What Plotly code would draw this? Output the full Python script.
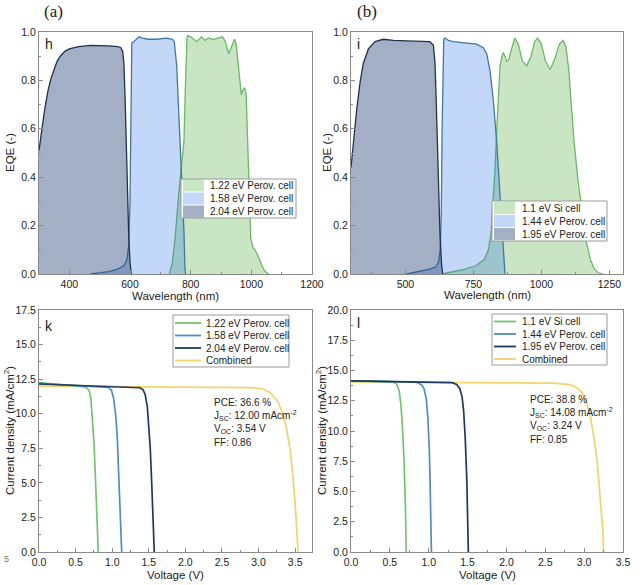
import plotly.graph_objects as go

W, H = 640, 585

# ---------------- data ----------------
# Panel (a) EQE
a_wl_204 = [300, 305, 312, 320, 330, 340, 350, 360, 370, 385, 400, 430, 470, 500, 530, 560, 570, 576, 580, 584, 588, 592, 596, 600, 604]
a_eqe_204 = [0.51, 0.55, 0.62, 0.69, 0.76, 0.81, 0.85, 0.88, 0.90, 0.92, 0.93, 0.94, 0.945, 0.945, 0.943, 0.94, 0.935, 0.92, 0.87, 0.72, 0.52, 0.32, 0.15, 0.05, 0.0]
a_wl_158 = [470, 500, 530, 560, 580, 590, 596, 600, 603, 606, 612, 620, 630, 640, 660, 690, 720, 740, 746, 754, 762, 770, 774, 778, 781, 783]
a_eqe_158 = [0.0, 0.005, 0.01, 0.02, 0.035, 0.06, 0.12, 0.3, 0.7, 0.955, 0.96, 0.97, 0.98, 0.975, 0.97, 0.97, 0.975, 0.97, 0.96, 0.86, 0.65, 0.44, 0.3, 0.17, 0.03, 0.0]
a_wl_122 = [730, 740, 748, 754, 762, 770, 778, 782, 785, 788, 790, 800, 810, 820, 828, 836, 847, 858, 875, 890, 905, 915, 925, 935, 945, 950, 957, 962, 967, 972, 978, 983, 988, 993, 998, 1005, 1012, 1020, 1029, 1040, 1050, 1058]
a_eqe_122 = [0.0, 0.05, 0.14, 0.24, 0.35, 0.45, 0.55, 0.75, 0.92, 0.98, 0.985, 0.98, 0.97, 0.96, 0.97, 0.98, 0.965, 0.975, 0.97, 0.975, 0.98, 0.96, 0.91, 0.94, 0.97, 0.95, 0.85, 0.78, 0.74, 0.76, 0.77, 0.74, 0.55, 0.3, 0.15, 0.11, 0.10, 0.08, 0.05, 0.02, 0.005, 0.0]

# Panel (b) EQE
b_wl_195 = [300, 309, 321, 333, 345, 364, 388, 419, 456, 505, 554, 590, 603, 609, 615, 621, 627, 633, 637]
b_eqe_195 = [0.44, 0.55, 0.68, 0.79, 0.87, 0.93, 0.96, 0.97, 0.965, 0.963, 0.96, 0.96, 0.945, 0.87, 0.65, 0.375, 0.17, 0.04, 0.0]
b_wl_144 = [505, 550, 590, 612, 622, 628, 632, 635, 638, 641, 646, 658, 676, 713, 762, 786, 799, 811, 823, 836, 848, 858, 863, 866]
b_eqe_144 = [0.0, 0.01, 0.02, 0.03, 0.05, 0.1, 0.25, 0.6, 0.9, 0.97, 0.975, 0.965, 0.96, 0.955, 0.95, 0.935, 0.91, 0.84, 0.72, 0.54, 0.31, 0.13, 0.03, 0.0]
b_wl_si = [635, 680, 720, 760, 790, 805, 815, 822, 829, 836, 842, 848, 855, 860, 866, 872, 880, 890, 903, 915, 930, 946, 962, 975, 986, 1000, 1015, 1032, 1050, 1066, 1080, 1090, 1100, 1110, 1120, 1135, 1150, 1166, 1180, 1195, 1210, 1225]
b_eqe_si = [0.0, 0.01, 0.02, 0.035, 0.06, 0.1, 0.17, 0.3, 0.42, 0.6, 0.75, 0.86, 0.9, 0.915, 0.9, 0.88, 0.885, 0.93, 0.975, 0.95, 0.88, 0.86, 0.9, 0.96, 0.975, 0.95, 0.88, 0.845, 0.89, 0.95, 0.965, 0.94, 0.85, 0.7, 0.55, 0.38, 0.25, 0.13, 0.06, 0.02, 0.005, 0.0]

# Panel (k) J-V
k_v_122 = [0, 0.3, 0.6, 0.66, 0.69, 0.71, 0.73, 0.75, 0.77, 0.79, 0.81]
k_j_122 = [12.25, 12.1, 11.95, 11.85, 11.6, 11.0, 9.8, 8.0, 5.5, 2.5, 0.0]
k_v_158 = [0, 0.4, 0.8, 0.95, 0.99, 1.02, 1.05, 1.07, 1.09, 1.11, 1.13]
k_j_158 = [12.2, 12.1, 11.95, 11.9, 11.7, 11.1, 9.8, 8.2, 5.8, 3.0, 0.0]
k_v_204 = [0, 0.5, 1.0, 1.38, 1.42, 1.45, 1.48, 1.50, 1.52, 1.54, 1.56, 1.575]
k_j_204 = [12.15, 12.05, 11.95, 11.88, 11.75, 11.4, 10.5, 9.3, 7.5, 5.0, 2.0, 0.0]
k_v_comb = [0, 1.0, 2.0, 2.9, 3.05, 3.15, 3.25, 3.32, 3.38, 3.43, 3.47, 3.50, 3.54]
k_j_comb = [12.0, 11.97, 11.93, 11.88, 11.8, 11.55, 11.0, 10.2, 9.0, 7.4, 5.5, 3.5, 0.0]

# Panel (l) J-V
l_v_si = [0, 0.3, 0.5, 0.56, 0.59, 0.62, 0.64, 0.66, 0.68, 0.70, 0.71]
l_j_si = [14.15, 14.12, 14.08, 14.0, 13.85, 13.3, 12.3, 10.6, 7.9, 3.8, 0.0]
l_v_144 = [0, 0.4, 0.8, 0.87, 0.91, 0.94, 0.97, 0.99, 1.01, 1.02, 1.035]
l_j_144 = [14.15, 14.1, 14.05, 13.97, 13.8, 13.5, 12.6, 11.0, 8.0, 5.0, 0.0]
l_v_195 = [0, 0.5, 1.0, 1.3, 1.36, 1.40, 1.43, 1.45, 1.47, 1.49, 1.51]
l_j_195 = [14.15, 14.1, 14.05, 14.0, 13.85, 13.5, 12.8, 11.6, 9.4, 6.0, 0.0]
l_v_comb = [0, 1.0, 2.0, 2.6, 2.8, 2.9, 2.97, 3.03, 3.08, 3.13, 3.17, 3.21, 3.24, 3.25]
l_j_comb = [14.05, 14.03, 14.0, 13.95, 13.85, 13.6, 13.2, 12.4, 11.2, 9.3, 7.3, 4.5, 1.8, 0.0]

a_names = ["1.22 eV Perov. cell", "1.58 eV Perov. cell", "2.04 eV Perov. cell"]
b_names = ["1.1 eV Si cell", "1.44 eV Perov. cell", "1.95 eV Perov. cell"]
k_names = ["1.22 eV Perov. cell", "1.58 eV Perov. cell", "2.04 eV Perov. cell", "Combined"]
l_names = ["1.1 eV Si cell", "1.44 eV Perov. cell", "1.95 eV Perov. cell", "Combined"]
k_stats = ["PCE: 36.6 %", "J<sub>SC</sub>: 12.00 mAcm<sup>-2</sup>", "V<sub>OC</sub>: 3.54 V", "FF: 0.86"]
l_stats = ["PCE: 38.8 %", "J<sub>SC</sub>: 14.08 mAcm<sup>-2</sup>", "V<sub>OC</sub>: 3.24 V", "FF: 0.85"]

# ---------------- styles ----------------
FONT = "Liberation Sans, Arial, sans-serif"
G_FILL, G_LINE = "rgba(60,160,40,0.28)", "#6cb865"
B_FILL, B_LINE = "rgba(40,110,230,0.28)", "#3f78a8"
D_FILL, D_LINE = "rgba(40,70,120,0.43)", "#1f3350"
JV_G, JV_B, JV_D, JV_Y = "#72c66e", "#4f8dc6", "#1f3a60", "#f2d36c"
AX_COL = "#8a8a8a"
TXT = "#222222"


def px(x):
    """window pixel -> paper fraction"""
    return x / W


def py(y):
    return 1 - y / H


fig = go.Figure()


def eqe(x, y, fill, line, xa, ya):
    fig.add_trace(go.Scatter(x=x, y=y, mode="lines", fill="tozeroy", fillcolor=fill,
                             line=dict(color=line, width=1.3), xaxis=xa, yaxis=ya,
                             showlegend=False, hoverinfo="skip"))


def jv(x, y, col, xa, ya):
    fig.add_trace(go.Scatter(x=x, y=y, mode="lines", line=dict(color=col, width=1.7),
                             xaxis=xa, yaxis=ya, showlegend=False, hoverinfo="skip"))


eqe(a_wl_122, a_eqe_122, G_FILL, G_LINE, "x", "y")
eqe(a_wl_158, a_eqe_158, B_FILL, B_LINE, "x", "y")
eqe(a_wl_204, a_eqe_204, D_FILL, D_LINE, "x", "y")
eqe(b_wl_si, b_eqe_si, G_FILL, G_LINE, "x2", "y2")
eqe(b_wl_144, b_eqe_144, B_FILL, B_LINE, "x2", "y2")
eqe(b_wl_195, b_eqe_195, D_FILL, D_LINE, "x2", "y2")

jv(k_v_comb, k_j_comb, JV_Y, "x3", "y3")
jv(k_v_122, k_j_122, JV_G, "x3", "y3")
jv(k_v_158, k_j_158, JV_B, "x3", "y3")
jv(k_v_204, k_j_204, JV_D, "x3", "y3")
jv(l_v_comb, l_j_comb, JV_Y, "x4", "y4")
jv(l_v_si, l_j_si, JV_G, "x4", "y4")
jv(l_v_144, l_j_144, JV_B, "x4", "y4")
jv(l_v_195, l_j_195, JV_D, "x4", "y4")

tickfont = dict(family=FONT, size=10.5, color=TXT)


def axis(domain, rng, dtick, fmt, anchor, tick0=0):
    return dict(domain=domain, range=rng, dtick=dtick, tick0=tick0, tickformat=fmt,
                anchor=anchor, showgrid=False, zeroline=False, showline=True,
                automargin=False,
                linecolor=AX_COL, linewidth=1, mirror=True, ticks="inside",
                ticklen=4, tickcolor=AX_COL, tickfont=tickfont,
                minor=dict(ticks="inside", ticklen=2, tickcolor=AX_COL, dtick=dtick / 2, tick0=tick0))


top_dom = [py(274), py(32)]
bot_dom = [py(552), py(310)]
left_dom = [px(39), px(312)]
right_dom = [px(351), px(623)]

fig.update_layout(
    template="none",
    width=W, height=H, margin=dict(l=0, r=0, t=0, b=0, pad=0),
    paper_bgcolor="white", plot_bgcolor="white", showlegend=False,
    xaxis=axis(left_dom, [300, 1200], 200, "d", "y"),
    yaxis=axis(top_dom, [0, 1.0], 0.2, ".1f", "x"),
    xaxis2=axis(right_dom, [300, 1300], 250, "d", "y2"),
    yaxis2=axis(top_dom, [0, 1.0], 0.2, ".1f", "x2"),
    xaxis3=axis(left_dom, [0, 3.73], 0.5, ".1f", "y3"),
    yaxis3=axis(bot_dom, [0, 17.5], 2.5, ".1f", "x3"),
    xaxis4=axis(right_dom, [0, 3.5], 0.5, ".1f", "y4"),
    yaxis4=axis(bot_dom, [0, 20], 2.5, ".1f", "x4"),
)

ann = []
shapes = []


def text(x, y, s, size=10, xanchor="left", yanchor="middle", family=FONT, angle=0, color=TXT):
    ann.append(dict(x=px(x), y=py(y), xref="paper", yref="paper", text=s, showarrow=False,
                    xanchor=xanchor, yanchor=yanchor, textangle=angle,
                    font=dict(family=family, size=size, color=color)))


# panel captions
text(53, 11, "(a)", size=17, xanchor="center", family="Liberation Serif, Times New Roman, serif")
text(367, 11, "(b)", size=17, xanchor="center", family="Liberation Serif, Times New Roman, serif")
text(43, 44, "h", size=14)
text(355, 44, "i", size=14)
text(43, 326, "k", size=14)
text(355, 323, "l", size=14)

# fragment of a neighbouring tick label visible in the reference crop
text(6, 559, "5", size=9, xanchor="center", color="#777777")

# axis titles
text(175.5, 296, "Wavelength (nm)", size=11.5, xanchor="center")
text(487, 295, "Wavelength (nm)", size=11.5, xanchor="center")
text(175.5, 575, "Voltage (V)", size=11.5, xanchor="center")
text(487, 575, "Voltage (V)", size=11.5, xanchor="center")
text(10, 153, "EQE (-)", size=11.5, xanchor="center", angle=-90)
text(327, 153, "EQE (-)", size=11.5, xanchor="center", angle=-90)
text(9, 431, "Current density (mA/cm<sup>2</sup>)", size=11.5, xanchor="center", angle=-90)
text(321, 431, "Current density (mA/cm<sup>2</sup>)", size=11.5, xanchor="center", angle=-90)


def legend_box(x0, y0, x1, y1):
    shapes.append(dict(type="rect", xref="paper", yref="paper", x0=px(x0), x1=px(x1),
                       y0=py(y1), y1=py(y0), fillcolor="white", line=dict(color="#9a9a9a", width=1),
                       layer="above"))


def fill_legend(x0, y0, x1, y1, ys, names, fills, sw_x0, sw_x1, tx):
    legend_box(x0, y0, x1, y1)
    for yy, nm, fc in zip(ys, names, fills):
        shapes.append(dict(type="rect", xref="paper", yref="paper", x0=px(sw_x0), x1=px(sw_x1),
                           y0=py(yy + 6), y1=py(yy - 6), fillcolor=fc,
                           line=dict(color="rgba(255,255,255,0)", width=0), layer="above"))
        text(tx, yy, nm)


def line_legend(x0, y0, x1, y1, ys, names, cols, sw_x0, sw_x1, tx):
    legend_box(x0, y0, x1, y1)
    for yy, nm, c in zip(ys, names, cols):
        shapes.append(dict(type="line", xref="paper", yref="paper", x0=px(sw_x0), x1=px(sw_x1),
                           y0=py(yy), y1=py(yy), line=dict(color=c, width=1.8), layer="above"))
        text(tx, yy, nm)


fill_legend(181, 179, 296, 218, [185.5, 198.5, 211.5], a_names, [G_FILL, B_FILL, D_FILL], 183, 204, 208)
fill_legend(492, 201, 607, 241, [208, 221, 234], b_names, [G_FILL, B_FILL, D_FILL], 494, 515, 520)
line_legend(173, 315, 289, 367, [323, 335.5, 348, 360.5], k_names, [JV_G, JV_B, JV_D, JV_Y], 175, 201, 204)
line_legend(492, 314, 607, 365, [321.5, 334, 346.5, 359], l_names, [JV_G, JV_B, JV_D, JV_Y], 494, 516, 520)

for i, s in enumerate(k_stats):
    text(212, 402 + i * 13.5, s, size=10)
for i, s in enumerate(l_stats):
    text(528, 399 + i * 13.5, s, size=10)

fig.update_layout(annotations=ann, shapes=shapes)
# remove the browser's default 8 px body margin so the figure sits at the window corner
fig.write_html("out.html", config={"displayModeBar": False},
               post_script="document.body.style.margin='0px';")
